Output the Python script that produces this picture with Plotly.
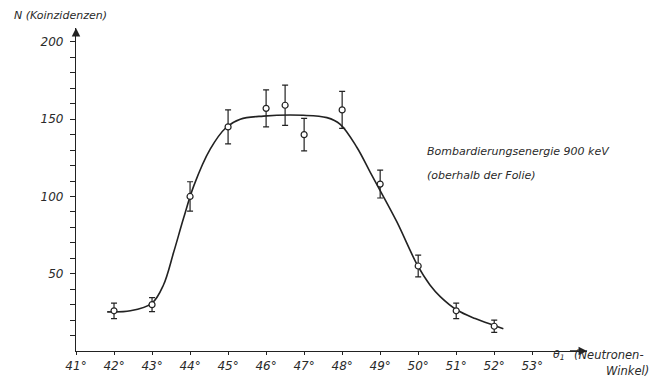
import plotly.graph_objects as go

# Measured data points (angle in degrees, coincidences, error)
angles = [42, 43, 44, 45, 46, 46.5, 47, 48, 49, 50, 51, 52]
counts = [26, 30, 100, 145, 157, 159, 140, 156, 108, 55, 26, 16]
errors = [5, 4.5, 9.5, 11, 12, 13, 10.5, 12, 9, 7, 5, 4]

# Hand-drawn fitted curve
curve_x = [41.82, 42.43, 43.0, 43.30, 43.57, 43.83, 44.1, 44.53, 44.95, 45.32,
           45.93, 46.98, 47.60, 47.95, 48.39, 48.74, 49.00, 49.44, 49.98, 50.31,
           50.58, 51.02, 51.50, 52.00, 52.24]
curve_y = [25.3, 26.0, 31, 42.7, 64, 86, 107, 130.6, 144.6, 150,
           152, 152.5, 151, 146.7, 131.7, 115.6, 103.8, 83.5, 55.5, 42.7,
           35.2, 26.5, 21, 16.5, 14.4]

x_ticks = [41, 42, 43, 44, 45, 46, 47, 48, 49, 50, 51, 52, 53]
x_labels = [f"{v}°" for v in x_ticks]
y_ticks = [10, 20, 30, 40, 50, 60, 70, 80, 90, 100, 110, 120, 130, 140, 150,
           160, 170, 180, 190, 200]
y_labels = ["", "", "", "", "50", "", "", "", "", "100", "", "", "", "", "150",
            "", "", "", "", "200"]

ink = "#222222"
txt = "#2a2a2a"

fig = go.Figure()
fig.add_trace(go.Scatter(x=curve_x, y=curve_y, mode="lines",
                         line=dict(color=ink, width=1.6, shape="spline", smoothing=1.0),
                         hoverinfo="skip", showlegend=False))
fig.add_trace(go.Scatter(x=angles, y=counts, mode="markers",
                         marker=dict(symbol="circle", size=6, color="white",
                                     line=dict(color=ink, width=1.2)),
                         error_y=dict(type="data", array=errors, color=ink,
                                      thickness=1.2, width=3),
                         showlegend=False))

fig.update_layout(
    width=660, height=385,
    margin=dict(l=76, r=73, t=28, b=32),
    paper_bgcolor="white", plot_bgcolor="white",
    font=dict(family="DejaVu Sans", size=12, color=txt, style="italic"),
)
fig.update_xaxes(range=[41, 54.44], showgrid=False, zeroline=False,
                 showline=True, linecolor=ink, linewidth=1.3,
                 tickmode="array", tickvals=x_ticks, ticktext=x_labels,
                 ticks="outside", ticklen=3, tickcolor=ink, tickwidth=1.2,
                 tickfont=dict(size=12, color=txt, style="italic"))
fig.update_yaxes(range=[0, 209], showgrid=False, zeroline=False,
                 showline=True, linecolor=ink, linewidth=1.3,
                 tickmode="array", tickvals=y_ticks, ticktext=y_labels,
                 ticks="outside", ticklen=5, tickcolor=ink, tickwidth=1.2,
                 ticklabelstandoff=4,
                 tickfont=dict(size=12, color=txt, style="italic"))

# axis arrows
fig.add_annotation(x=54.44, y=0, ax=53.9, ay=0, xref="x", yref="y",
                   axref="x", ayref="y", text=" ", showarrow=True,
                   arrowhead=2, arrowsize=1.3, arrowwidth=1.3, arrowcolor=ink)
fig.add_annotation(x=41, y=209, ax=41, ay=202, xref="x", yref="y",
                   axref="x", ayref="y", text=" ", showarrow=True,
                   arrowhead=2, arrowsize=1.3, arrowwidth=1.3, arrowcolor=ink)

def label(text, x, y, anchor="left", size=11):
    fig.add_annotation(text=text, x=x, y=y, xref="paper", yref="paper",
                       xanchor=anchor, yanchor="middle", showarrow=False,
                       font=dict(size=size, color=txt, style="italic"))

def px(xp, yp):
    return ((xp - 76) / 511.0, (353 - yp) / 325.0)

for text, xp, yp, size in [
    ("N (Koinzidenzen)", 12, 15, 11),
    ("Bombardierungsenergie 900 keV", 425, 152, 11),
    ("(oberhalb der Folie)", 425, 176, 11),
    ("θ<sub>1</sub>", 551, 357, 11),
    ("(Neutronen-", 572, 357, 11.5),
    ("Winkel)", 604, 373, 11.5),
]:
    fx, fy = px(xp, yp)
    label(text, fx, fy, size=size)

fig.write_html("out.html")
